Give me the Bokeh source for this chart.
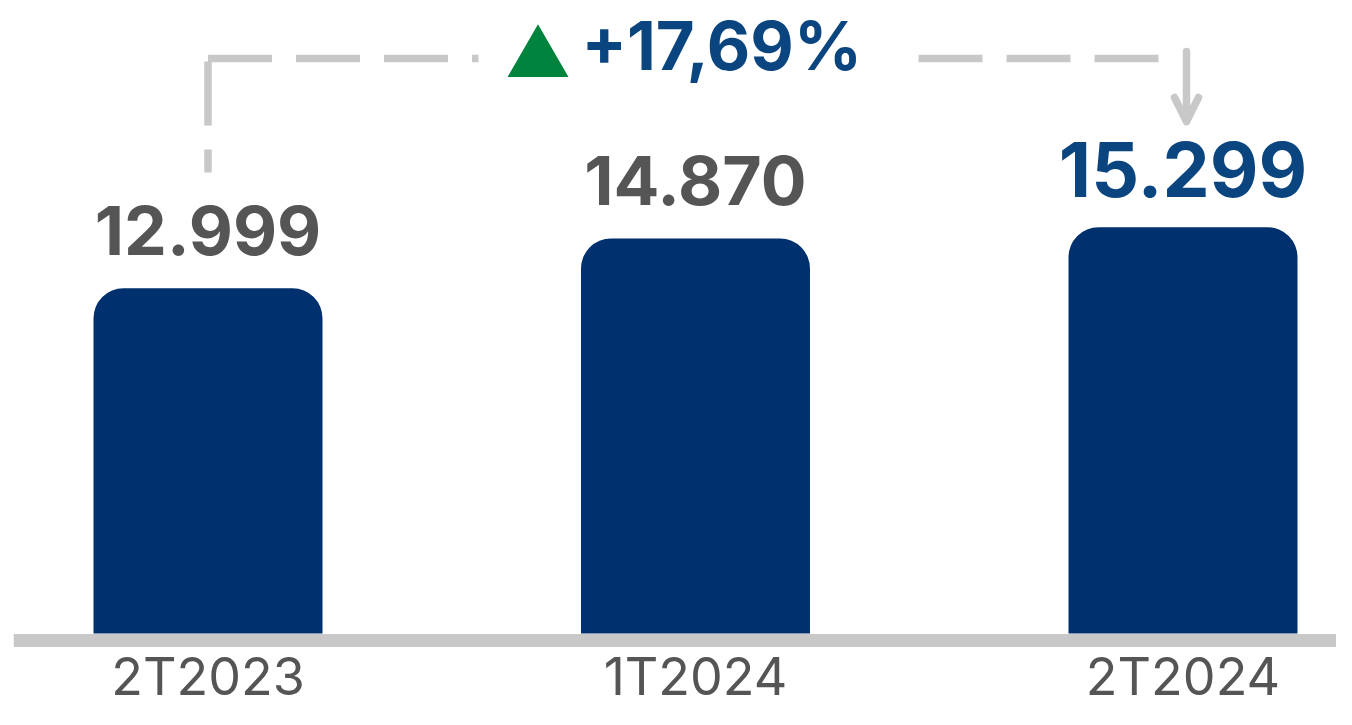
from bokeh.plotting import figure
from bokeh.models import Range1d, FixedTicker, Arrow, OpenHead, ColumnDataSource
from bokeh.core.properties import value
from bokeh.embed import file_html
from bokeh.resources import INLINE

# ---------------- data ----------------
categories = ["2T2023", "1T2024", "2T2024"]
values = [12999, 14870, 15299]
highlight = [False, False, True]

growth = (values[-1] / values[0] - 1) * 100
growth_label = "+" + f"{growth:.2f}".replace(".", ",") + "%"
value_labels = [f"{v:,}".replace(",", ".") for v in values]

# ---------------- layout / style ----------------
W, H = 1336, 709
LEFT = 13
PX_PER_CAT = 487.5          # pixels between bar centres
FIRST_CENTER = 207.5        # px of first bar centre
UPP = 37.65                 # data units per pixel (vertical)
ZERO_PX = 633               # px (from top) of value 0

BAR = "#00306E"
GRAY_TXT = "#555555"
BLUE_TXT = "#0B4580"
LINE_GRAY = "#C8C8C8"
GREEN = "#00843D"
FONT = "Inter"

x0 = -(FIRST_CENTER - LEFT) / PX_PER_CAT
x1 = x0 + (W - LEFT) / PX_PER_CAT
y0 = -(H - ZERO_PX) * UPP
y1 = ZERO_PX * UPP


def ypx(py):
    """convert a pixel row (from top) to data units"""
    return (ZERO_PX - py) * UPP


def xcat(i, dx):
    return i + dx / PX_PER_CAT


p = figure(width=W, height=H, output_backend="svg", toolbar_location=None,
           x_range=Range1d(x0, x1), y_range=Range1d(y0, y1),
           y_axis_location=None, min_border_left=LEFT, min_border_right=0,
           min_border_top=0, min_border_bottom=0)
p.outline_line_color = None
p.grid.visible = False
p.background_fill_color = "white"
p.border_fill_color = "white"

idx = list(range(len(categories)))
src = ColumnDataSource(dict(
    x=idx, top=values, label=value_labels,
    color=[BLUE_TXT if h else GRAY_TXT for h in highlight],
    size=["75px" if h else "68px" for h in highlight],
))

p.vbar(x="x", top="top", bottom=0, width=229 / PX_PER_CAT, source=src,
       fill_color=BAR, line_color=None, border_radius=(30, 30, 0, 0))

p.text(x="x", y="top", text="label", source=src, text_align="center",
       text_baseline="alphabetic", y_offset=-58, text_color="color",
       text_font_size="size", text_font=value(FONT), text_font_style="bold")

# baseline axis with category labels
ax = p.xaxis[0]
ax.fixed_location = -6.5 * UPP
ax.ticker = FixedTicker(ticks=idx)
ax.major_label_overrides = {i: c for i, c in zip(idx, categories)}
ax.axis_line_color = LINE_GRAY
ax.axis_line_width = 13
ax.major_tick_line_color = None
ax.minor_tick_line_color = None
ax.major_label_standoff = -1
ax.major_label_text_font = FONT
ax.major_label_text_font_size = "52px"
ax.major_label_text_color = GRAY_TXT

# growth connector
bracket_y = ypx(58)
dash = dict(line_color=LINE_GRAY, line_width=7.5, line_dash="64 24", line_cap="butt")
p.line([0, 0], [bracket_y - 3 * UPP, ypx(172)], **dash)
p.line([0, xcat(0, 270.5)], [bracket_y, bracket_y], **dash)
p.line([xcat(2, -264.5), xcat(2, -2)], [bracket_y, bracket_y], **dash)

p.add_layout(Arrow(x_start=xcat(2, 3.5), y_start=ypx(51), x_end=xcat(2, 3.5), y_end=ypx(121),
                   line_color=LINE_GRAY, line_width=7.5, line_cap="round",
                   end=OpenHead(size=24, line_color=LINE_GRAY, line_width=7.5,
                                line_cap="round", line_join="round")))

p.scatter(x=[xcat(1, -157.5)], y=[ypx(59)], marker="triangle", size=61,
          fill_color=GREEN, line_color=None)
p.text(x=[xcat(1, -114)], y=[ypx(45)], text=[growth_label], text_align="left",
       text_baseline="alphabetic", text_color=BLUE_TXT, text_font_size="67px",
       text_font=value(FONT), text_font_style="bold")

open("out.html", "w").write(file_html(p, INLINE))
